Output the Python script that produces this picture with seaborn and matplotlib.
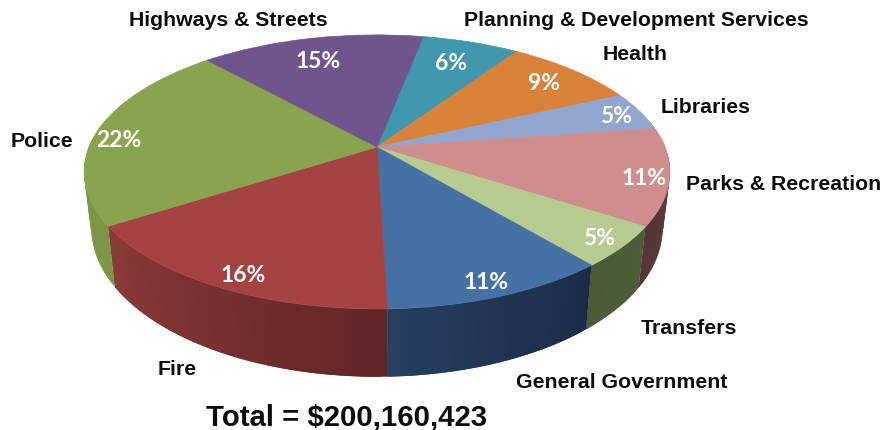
import numpy as np
import matplotlib
matplotlib.use("Agg")
import matplotlib.pyplot as plt
import matplotlib.transforms as mtransforms
from matplotlib.colors import to_rgb
import seaborn as sns

# ---- data ----
categories = ["Planning & Development Services", "Health", "Libraries",
              "Parks & Recreation", "Transfers", "General Government",
              "Fire", "Police", "Highways & Streets"]
percent = [6.4, 8.7, 4.6, 11.4, 4.8, 10.6, 16.4, 22.4, 14.7]
total_label = "Total = $200,160,423"

# ---- styles ----
top_colors = ["#4097AE", "#D9823C", "#90A6CF", "#CE8E8D", "#B7CB91",
              "#4571A5", "#A54342", "#8AA34F", "#70558C"]
wall_start = ["#2F7080", "#A0602C", "#6A7A98", "#5E3E40", "#4D5C39",
              "#1B2C47", "#602525", "#7C9648", "#523E68"]
wall_end = ["#2F7080", "#A0602C", "#6A7A98", "#563638", "#4C5A38",
            "#263F60", "#8C3B39", "#7A9446", "#523E68"]
START_ANGLE = 79.1

# perspective of the pie disc in picture pixels
X0, Y0, B, A, K = 377.0, 148.0, 288.0, 132.5, 0.182
LOW_DX, LOW_DY, LOW_SHIFT = 0.975, 1.085, 54.0


class Perspective(mtransforms.Transform):
    input_dims = 2
    output_dims = 2
    is_separable = False
    has_inverse = False

    def transform_non_affine(self, xy):
        xy = np.asarray(xy, dtype=float)
        w = 1 + K * xy[:, 1]
        return np.column_stack([X0 + B * xy[:, 0] / w, Y0 - A * xy[:, 1] / w])


def rim(theta, lower=False):
    c, s = np.cos(theta), np.sin(theta)
    w = 1 + K * s
    dx, dy = B * c / w, -A * s / w
    if lower:
        return X0 + LOW_DX * dx, Y0 + LOW_SHIFT + LOW_DY * dy
    return X0 + dx, Y0 + dy


# layout of texts (pixels: centre x, centre y), same order as categories
label_xy = [(636, 21), (635, 54), (706, 108), (784, 185), (689, 329),
            (622, 383), (177, 370), (42, 142), (228, 21)]
pct_xy = [(451, 64), (544, 84), (616, 117), (644, 179), (599, 239),
          (486, 283), (243, 276), (119, 141), (318, 61)]

sns.set_theme(style="white")
palette = sns.color_palette(top_colors)

fig = plt.figure(figsize=(8.82, 4.31), dpi=100, facecolor="white")
ax = fig.add_axes([0, 0, 1, 1])

# top surface through the library's pie
wedges, _ = ax.pie(percent, colors=palette, startangle=START_ANGLE,
                   counterclock=False, radius=1,
                   wedgeprops=dict(linewidth=0.5, zorder=3))
persp = Perspective()
for w, col in zip(wedges, palette):
    w.set_edgecolor(col)
    w.set_transform(persp + ax.transData)
    w.set_clip_on(False)

ax.set_aspect("auto")
ax.set_xlim(0, 882)
ax.set_ylim(431, 0)
ax.axis("off")

# side wall, slice by slice; each strip overlaps the next to hide seams
cum = np.cumsum([0] + percent)
for i in range(len(percent)):
    t0 = np.deg2rad(START_ANGLE - cum[i] * 3.6)
    t1 = np.deg2rad(START_ANGLE - cum[i + 1] * 3.6)
    n = max(2, int(abs(np.rad2deg(t1 - t0))))
    ts = np.linspace(t0, t1, n + 1)
    c0, c1 = np.array(to_rgb(wall_start[i])), np.array(to_rgb(wall_end[i]))
    for j in range(n):
        if np.sin(ts[j]) > 0.2 and np.sin(ts[j + 1]) > 0.2:
            continue
        col = c0 + (c1 - c0) * (j + 0.5) / n
        seg = ts[j:j + 3] if j < n - 1 else ts[j:j + 2]
        xu, yu = rim(seg)
        xl, yl = rim(seg, lower=True)
        ax.fill(np.r_[xu, xl[::-1]], np.r_[yu, yl[::-1]], color=col,
                lw=0, zorder=2)

for name, (x, y) in zip(categories, label_xy):
    ax.text(x, y, name, ha="center", va="center", color="#0d0d0d",
            family="Liberation Sans", weight="bold", fontsize=15.3, zorder=5)
for p, (x, y) in zip(percent, pct_xy):
    ax.text(x, y, f"{round(p)}%", ha="center", va="center", color="white",
            family="Lato", weight="bold", fontsize=16.5, zorder=5)
ax.text(347, 418, total_label, ha="center", va="center", color="#0d0d0d",
        family="Liberation Sans", weight="bold", fontsize=21.2, zorder=5)

fig.savefig("out.png", dpi=100, facecolor="white")
